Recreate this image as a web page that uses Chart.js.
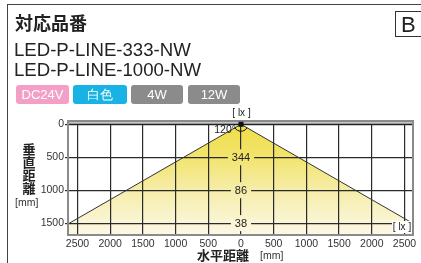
<!DOCTYPE html>
<html>
<head>
<meta charset="utf-8">
<script src="https://cdn.jsdelivr.net/npm/chart.js@4"></script>
<style>
  body { margin: 0; width: 421px; height: 263px; overflow: hidden; background: #fff; position: relative;
         font-family: "Liberation Sans", Arial, sans-serif; color: #222; }
  #wrap { position: absolute; left: 0; top: 0; width: 421px; height: 263px; }
  .frame { position: absolute; left: 7px; top: 4px; width: 430px; height: 270px;
           border-left: 1.5px solid #444; border-top: 1.5px solid #444; }
  .title { position: absolute; left: 15px; top: 10px; font: bold 18px "Noto Sans CJK JP", sans-serif; line-height: 24px; }
  .boxB { position: absolute; left: 395px; top: 11px; width: 30px; height: 26px; border: 1.5px solid #333;
          font-size: 22px; line-height: 26px; padding-left: 5px; box-sizing: border-box; }
  .model { position: absolute; left: 14px; font-size: 18.6px; line-height: 18px; color: #222; }
  .badge { position: absolute; top: 85px; height: 19px; border-radius: 3px; color: #fff; font-size: 13px;
           line-height: 19px; text-align: center; }
  .ytitle { position: absolute; left: 22px; top: 142px; width: 14px; font: bold 13px "Noto Sans CJK JP", sans-serif;
            line-height: 13px; text-align: center; }
  .unit { position: absolute; font-size: 10.5px; color: #333; }
  .xtitle { position: absolute; left: 197px; top: 247px; font: bold 13px "Noto Sans CJK JP", sans-serif; line-height: 16px; }
</style>
</head>
<body>
<div id="wrap"><canvas id="chart" width="421" height="263"></canvas></div>
<div class="frame"></div>
<div class="title">対応品番</div>
<div class="boxB">B</div>
<div class="model" style="top:41px">LED-P-LINE-333-NW</div>
<div class="model" style="top:61px">LED-P-LINE-1000-NW</div>
<div class="badge" style="left:16px;width:53px;background:#f4a0c6">DC24V</div>
<div class="badge" style="left:73px;width:54px;background:#18b2e4">白色</div>
<div class="badge" style="left:131px;width:52px;background:#8b8b8b">4W</div>
<div class="badge" style="left:188px;width:52px;background:#8b8b8b">12W</div>
<div class="ytitle">垂<br>直<br>距<br>離</div>
<div class="unit" style="left:15px;top:196px">[mm]</div>
<div class="xtitle">水平距離</div>
<div class="unit" style="left:260px;top:249px">[mm]</div>

<script>
// distances in mm
const depthTicks = [0, 500, 1000, 1500];
const horizTicks = [-2500, -2000, -1500, -1000, -500, 0, 500, 1000, 1500, 2000, 2500];

// beam outline (apex at the fixture)
const beamX = [-2640, 0, 2640];
const beamY = [1510, 0, 1510];

// illuminance along the centre line
const luxDepth = [500, 1000, 1500];
const luxValue = [344, 86, 38];

const beamAngle = 120;

function beamGradient(chart) {
    const a = chart.chartArea;
    const y = chart.scales.y;
    const g = chart.ctx.createLinearGradient(0, y.getPixelForValue(0), 0, a.bottom);
    g.addColorStop(0, '#efdd45');
    g.addColorStop(0.3, '#f2e46e');
    g.addColorStop(0.6, '#f6edaa');
    g.addColorStop(1, '#fcf8e6');
    return g;
}

const framePlugin = {
    id: 'frame',
    afterDatasetsDraw(chart) {
        const { ctx, chartArea: a, scales } = chart;
        const x = scales.x, y = scales.y;
        const cx = x.getPixelForValue(0), cy = y.getPixelForValue(0);
        ctx.save();

        // top band
        ctx.fillStyle = '#c4c4c4';
        ctx.fillRect(a.left, a.top, a.right - a.left, cy - a.top);
        ctx.strokeStyle = '#777';
        ctx.lineWidth = 1;
        ctx.beginPath();
        ctx.moveTo(a.left, a.top + 0.5); ctx.lineTo(a.right, a.top + 0.5);
        ctx.stroke();
        ctx.strokeStyle = '#222';
        ctx.lineWidth = 1.3;
        ctx.beginPath();
        ctx.moveTo(a.left, cy); ctx.lineTo(a.right, cy);
        ctx.stroke();

        // outer box
        ctx.strokeStyle = '#8a8a8a';
        ctx.lineWidth = 2;
        ctx.strokeRect(a.left, a.top, a.right - a.left, a.bottom - a.top);

        // apex marker + angle arc
        ctx.fillStyle = '#111';
        ctx.fillRect(cx - 2.5, cy - 2.5, 5, 5);
        ctx.strokeStyle = '#111';
        ctx.lineWidth = 1;
        ctx.beginPath();
        ctx.arc(cx, cy, 7, Math.PI / 6, 5 * Math.PI / 6);
        ctx.stroke();

        ctx.font = '10.5px "Liberation Sans", Arial, sans-serif';
        ctx.fillStyle = '#222';
        ctx.textAlign = 'right';
        ctx.textBaseline = 'middle';
        ctx.fillText(beamAngle + '°', cx - 5, cy + 6);

        // lux labels on the centre line
        const grad = beamGradient(chart);
        ctx.font = '11px "Liberation Sans", Arial, sans-serif';
        ctx.textAlign = 'center';
        luxDepth.forEach((d, i) => {
            const py = y.getPixelForValue(d);
            const txt = String(luxValue[i]);
            const w = ctx.measureText(txt).width + 8;
            ctx.fillStyle = grad;
            ctx.fillRect(cx - w / 2, py - 8, w, 16);
            ctx.fillStyle = '#222';
            ctx.fillText(txt, cx, py + 0.5);
        });

        // unit labels
        ctx.font = '10px "Liberation Sans", Arial, sans-serif';
        ctx.fillStyle = '#222';
        ctx.fillText('[ lx ]', cx + 0.5, a.top - 8);
        ctx.fillStyle = '#fff';
        ctx.fillRect(a.right - 21, a.bottom - 14, 20, 12);
        ctx.fillStyle = '#222';
        ctx.fillText('[ lx ]', a.right - 11, a.bottom - 7.5);
        ctx.restore();
    }
};

const ctx = document.getElementById('chart').getContext('2d');
new Chart(ctx, {
    type: 'scatter',
    data: {
        datasets: [{
            data: beamX.map((v, i) => ({ x: v, y: beamY[i] })),
            showLine: true,
            borderColor: '#333',
            borderWidth: 1,
            pointRadius: 0,
            fill: 'start',
            backgroundColor: c => c.chart.chartArea ? beamGradient(c.chart) : '#f4e88a'
        }]
    },
    options: {
        responsive: false,
        animation: false,
        layout: { padding: { top: 121, right: 8, left: 0, bottom: 0 } },
        plugins: {
            legend: { display: false },
            tooltip: { enabled: false },
            filler: { drawTime: 'beforeDraw' }
        },
        scales: {
            x: {
                type: 'linear',
                min: -2645,
                max: 2630,
                afterBuildTicks: s => { s.ticks = horizTicks.map(v => ({ value: v })); },
                afterFit: s => { s.height = 28; },
                ticks: {
                    callback: v => String(Math.abs(v)),
                    font: { family: '"Liberation Sans", Arial, sans-serif', size: 10.5 },
                    color: '#333',
                    padding: 3,
                    maxRotation: 0,
                    autoSkip: false
                },
                grid: { color: '#2b2b2b', lineWidth: 1.2, drawTicks: false },
                border: { display: false }
            },
            y: {
                type: 'linear',
                reverse: true,
                min: -50,
                max: 1680,
                afterBuildTicks: s => { s.ticks = depthTicks.map(v => ({ value: v })); },
                afterFit: s => { s.width = 68; },
                ticks: {
                    callback: v => String(v),
                    font: { family: '"Liberation Sans", Arial, sans-serif', size: 10.5 },
                    color: '#333',
                    padding: 1,
                    autoSkip: false
                },
                grid: { color: '#2b2b2b', lineWidth: 1.2, tickLength: 3 },
                border: { display: false }
            }
        }
    },
    plugins: [framePlugin]
});
</script>
</body>
</html>
